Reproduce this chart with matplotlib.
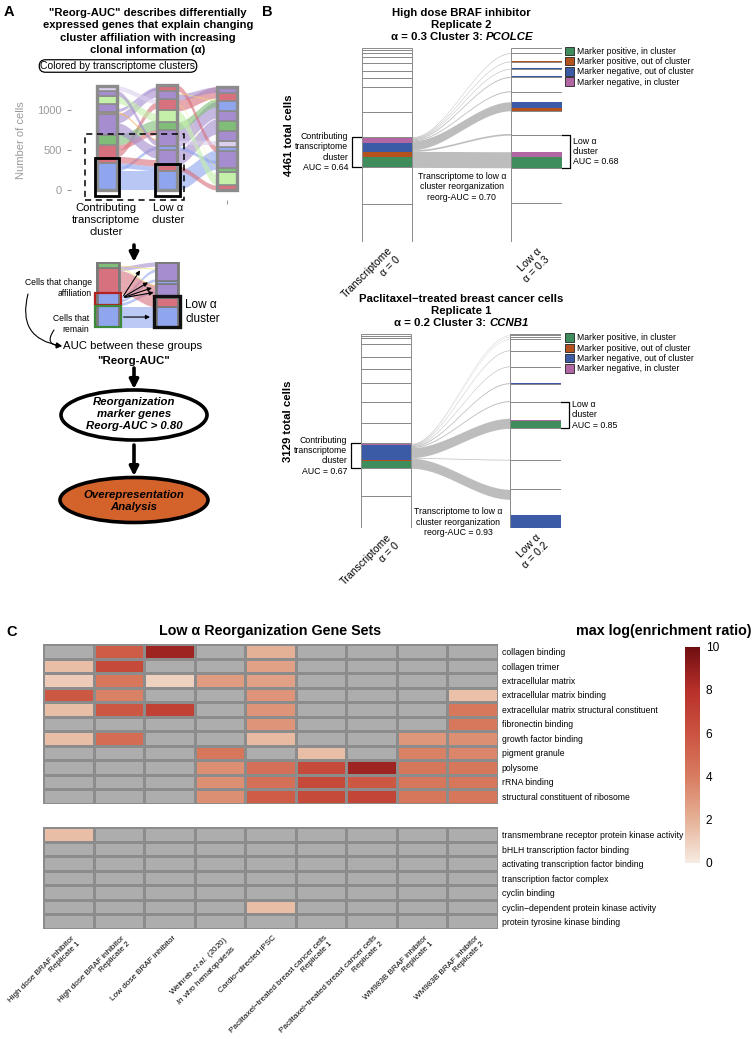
import numpy as np
import matplotlib
matplotlib.use('Agg')
import matplotlib.pyplot as plt
from matplotlib.patches import Rectangle, Ellipse, FancyArrowPatch, Patch
from matplotlib.colors import LinearSegmentedColormap, Normalize
from matplotlib.cm import ScalarMappable

plt.rcParams['font.family'] = ['Liberation Sans', 'DejaVu Sans']
plt.rcParams['mathtext.fontset'] = 'custom'
plt.rcParams['mathtext.rm'] = 'Liberation Sans'
plt.rcParams['mathtext.it'] = 'Liberation Sans:italic'
plt.rcParams['mathtext.bf'] = 'Liberation Sans:bold'

# ---------------- panel A data (sketch alluvial, cells bottom -> top) ----------------
a_colors = {'blue': '#8fa5ee', 'red': '#d7717d', 'purple': '#a58dcf', 'lgreen': '#c4f0aa',
            'green': '#80bd78', 'lav': '#dcd0ee', 'orange': '#f3b26a', 'yellow': '#f3e46c'}
a_col1 = [('blue', 340), ('red', 225), ('green', 125), ('purple', 265), ('orange', 25),
          ('purple', 100), ('lgreen', 100), ('purple', 60), ('lav', 60)]
a_col2 = [('blue', 240), ('red', 75), ('purple', 190), ('blue', 40), ('purple', 210), ('green', 100),
          ('lgreen', 140), ('red', 140), ('purple', 100), ('red', 75)]
a_col3 = [('red', 60), ('lgreen', 160), ('green', 50), ('purple', 220), ('blue', 50), ('lav', 75),
          ('purple', 125), ('green', 125), ('purple', 125), ('blue', 125), ('red', 100), ('purple', 75)]
# (colour, start cells in column i, end cells in column i+1, size)
a_flows_12 = [('blue', 0, 0, 240), ('blue', 240, 505, 40), ('blue', 280, 240, 60), ('red', 340, 300, 80),
              ('red', 420, 1020, 80), ('red', 500, 690, 65), ('green', 565, 750, 125),
              ('purple', 690, 400, 150), ('purple', 840, 1160, 115), ('orange', 955, 620, 25),
              ('purple', 980, 1250, 40), ('lgreen', 1080, 860, 100), ('purple', 1180, 560, 60),
              ('lav', 1240, 1080, 60)]
a_flows_23 = [('blue', 0, 260, 240), ('red', 240, 0, 60), ('purple', 315, 700, 190), ('blue', 505, 330, 40),
              ('purple', 545, 900, 205), ('green', 750, 1040, 100), ('lgreen', 850, 60, 140),
              ('red', 990, 1150, 140), ('purple', 1130, 1220, 70), ('red', 1235, 480, 75),
              ('lav', 560, 560, 50), ('yellow', 1060, 300, 12), ('yellow', 1200, 1120, 12)]

# zoomed sketch (cells bottom -> top)
ins_col1 = [('blue', 160), ('blue', 90), ('red', 180), ('green', 40)]
ins_col2 = [('blue', 150), ('red', 65), ('purple', 95), ('blue', 25), ('purple', 135)]
ins_flows = [('blue', 0, 0, 150), ('blue', 160, 250, 20), ('blue', 185, 330, 20), ('blue', 210, 400, 20),
             ('red', 250, 150, 65), ('red', 315, 215, 95), ('purple', 410, 440, 30),
             ('yellow', 420, 300, 8), ('yellow', 440, 420, 8)]

# ---------------- panel B data (cells, top -> bottom) ----------------
mark_labels = ['Marker positive, in cluster', 'Marker positive, out of cluster',
               'Marker negative, out of cluster', 'Marker negative, in cluster']
mark_keys = ['pos_in', 'pos_out', 'neg_out', 'neg_in']
mark_colors = {'pos_in': '#3f8c5c', 'pos_out': '#b4521d', 'neg_out': '#3b5ba7', 'neg_in': '#b267a4',
               'none': '#bdbdbd'}

b1_total = 4461
b1_left = [54, 61, 92, 138, 192, 169, 207, 560, 575, 705, 843, 865]
b1_contrib = 9
b1_contrib_parts = [('neg_in', 138), ('neg_out', 222), ('pos_out', 115), ('pos_in', 230)]
b1_right = [130, 192, 169, 192, 330, 437, 560, 751, 820, 880]
b1_low = 7
# flows from the contributing cluster: (destination cluster, cells left below, parts)
b1_flows = [(0, 0, [('none', 15)]), (1, 0, [('pos_out', 15)]), (2, 0, [('neg_out', 15)]),
            (3, 0, [('neg_out', 8), ('pos_out', 15)]), (4, 0, [('none', 23)]),
            (5, 0, [('neg_out', 153), ('pos_out', 54)]), (6, 0, [('none', 38)]),
            (7, 0, [('neg_in', 130), ('pos_in', 239)])]
b1_extra = []

b2_total = 3129
b2_left = [22, 43, 91, 215, 194, 226, 306, 328, 333, 403, 441, 527]
b2_contrib = 9
b2_contrib_parts = [('neg_in', 22), ('neg_out', 241), ('pos_out', 22), ('pos_in', 118)]
b2_right = [16, 27, 38, 183, 258, 274, 290, 430, 511, 473, 629]
b2_low = 7
b2_flows = [(0, 0, [('none', 5)]), (1, 0, [('none', 5)]), (2, 0, [('none', 5)]), (3, 0, [('none', 11)]),
            (4, 0, [('none', 11)]), (5, 0, [('neg_out', 16)]), (6, 0, [('none', 16)]),
            (7, 0, [('none', 22), ('neg_in', 27), ('pos_in', 113)]), (8, 0, [('none', 11)]),
            (10, 468, [('none', 161)])]
b2_extra = [(10, 0, [('neg_out', 199), ('pos_out', 11)])]

# ---------------- panel C data ----------------
hm_columns = ['High dose BRAF inhibitor\nReplicate 1', 'High dose BRAF inhibitor\nReplicate 2',
              'Low dose BRAF inhibitor', 'Weinreb $\\mathit{et\\ al.}$ (2020)\n$\\mathit{In\\ vitro}$ hematopoiesis',
              'Cardio\u2212directed iPSC', 'Paclitaxel\u2212treated breast cancer cells\nReplicate 1',
              'Paclitaxel\u2212treated breast cancer cells\nReplicate 2', 'WM983B BRAF inhibitor\nReplicate 1',
              'WM983B BRAF inhibitor\nReplicate 2']
hm_rows_top = ['collagen binding', 'collagen trimer', 'extracellular matrix', 'extracellular matrix binding',
               'extracellular matrix structural constituent', 'fibronectin binding', 'growth factor binding',
               'pigment granule', 'polysome', 'rRNA binding', 'structural constituent of ribosome']
hm_rows_bottom = ['transmembrane receptor protein kinase activity', 'bHLH transcription factor binding',
                  'activating transcription factor binding', 'transcription factor complex', 'cyclin binding',
                  'cyclin\u2212dependent protein kinase activity', 'protein tyrosine kinase binding']
nan = np.nan
hm_top = np.array([
    [nan, 5.5, 8.7, nan, 2.0, nan, nan, nan, nan],
    [1.6, 6.5, nan, nan, 2.6, nan, nan, nan, nan],
    [1.1, 4.2, 0.9, 2.8, 2.6, nan, nan, nan, nan],
    [5.8, 3.8, nan, nan, 3.1, nan, nan, nan, 1.5],
    [1.6, 5.8, 7.0, nan, 3.1, nan, nan, nan, 4.2],
    [nan, nan, nan, nan, 3.1, nan, nan, nan, 4.2],
    [1.6, 4.8, nan, nan, 1.7, nan, nan, 3.0, 3.3],
    [nan, nan, nan, 4.3, nan, 1.6, nan, 3.8, 3.6],
    [nan, nan, nan, 3.3, 4.6, 6.5, 8.7, 4.3, 4.3],
    [nan, nan, nan, 3.3, 4.6, 6.5, 5.8, 4.3, 4.3],
    [nan, nan, nan, 3.3, 5.5, 6.5, 6.8, 4.3, 4.3],
])
hm_bottom = np.array([
    [1.6, nan, nan, nan, nan, nan, nan, nan, nan],
    [nan, nan, nan, nan, nan, nan, nan, nan, nan],
    [nan, nan, nan, nan, nan, nan, nan, nan, nan],
    [nan, nan, nan, nan, nan, nan, nan, nan, nan],
    [nan, nan, nan, nan, nan, nan, nan, nan, nan],
    [nan, nan, nan, nan, 1.6, nan, nan, nan, nan],
    [nan, nan, nan, nan, nan, nan, nan, nan, nan],
])
cbar_ticks = [0, 2, 4, 6, 8, 10]

# ---------------- figure ----------------
W, H = 752, 1039
fig = plt.figure(figsize=(W / 100, H / 100), dpi=100)


def px_axes(x0, y0, x1, y1):
    return fig.add_axes([x0 / W, 1 - y1 / H, (x1 - x0) / W, (y1 - y0) / H])


def band(ax, x0, x1, y0, y1, h, **kw):
    xs = np.linspace(x0, x1, 80)
    t = (xs - x0) / (x1 - x0)
    s = t * t * (3 - 2 * t)
    yb = y0 + (y1 - y0) * s
    ax.fill_between(xs, yb, yb + h, **kw)


def stack_bar(ax, x, parts, w, colors, **kw):
    bottom = 0
    for c, n in parts:
        ax.bar(x, n, bottom=bottom, width=w, color=colors[c], **kw)
        bottom += n
    return bottom


# ---- panel A sketch alluvial ----
axA = px_axes(71, 80, 245, 200)
axA.set_xlim(0.4, 3.3)
axA.set_ylim(-125, 1375)
wA = 0.34
for x, col in zip([1, 2, 3], [a_col1, a_col2, a_col3]):
    tot = stack_bar(axA, x, col, wA, a_colors, edgecolor='#8c8c8c', linewidth=1.2, zorder=3)
    axA.bar(x, tot, width=wA, fill=False, edgecolor='#8c8c8c', linewidth=2.4, zorder=4)
for xi, flows in [(1, a_flows_12), (2, a_flows_23)]:
    for c, y0, y1, h in flows:
        band(axA, xi + wA / 2, xi + 1 - wA / 2, y0, y1, h, color=a_colors[c], alpha=0.62, linewidth=0, zorder=2)
axA.set_yticks([0, 500, 1000])
axA.set_xticks([3])
axA.set_xticklabels([''])
axA.tick_params(colors='#9a9a9a', labelsize=8, length=3)
axA.set_ylabel('Number of cells', color='#9a9a9a', fontsize=8)
axA.yaxis.set_label_coords(-0.26, 0.5)
for s in axA.spines.values():
    s.set_visible(False)
axA.add_patch(Rectangle((0.63, -125), 1.65, 825, fill=False, ls=(0, (4, 3)), lw=1.1, ec='k', clip_on=False, zorder=6))
axA.add_patch(Rectangle((0.8, -70), 0.4, 465, fill=False, lw=2, ec='k', clip_on=False, zorder=6))
axA.add_patch(Rectangle((1.8, -70), 0.42, 390, fill=False, lw=2, ec='k', clip_on=False, zorder=6))

# ---- panel A zoomed sketch ----
axI = px_axes(96, 262, 180, 328)
axI.set_xlim(0.8, 2.22)
axI.set_ylim(0, 470)
axI.axis('off')
wI = 0.38
for x, col in zip([1, 2], [ins_col1, ins_col2]):
    tot = stack_bar(axI, x, col, wI, a_colors, edgecolor='#7a7a7a', linewidth=1.2, zorder=3)
    axI.bar(x, tot, width=wI, fill=False, edgecolor='#7a7a7a', linewidth=2, zorder=4)
for c, y0, y1, h in ins_flows:
    band(axI, 1 + wI / 2, 2 - wI / 2, y0, y1, h, color=a_colors[c], alpha=0.6, linewidth=0, zorder=2)
axI.add_patch(Rectangle((0.78, 164), 0.44, 87, fill=False, lw=1.6, ec='#b22222', zorder=5, clip_on=False))
axI.add_patch(Rectangle((0.78, 5), 0.44, 152, fill=False, lw=1.6, ec='#3c8a3c', zorder=5, clip_on=False))
axI.add_patch(Rectangle((1.78, 4), 0.44, 222, fill=False, lw=2.4, ec='#111111', zorder=5, clip_on=False))
for tx, ty in [(1.57, 427), (1.72, 335), (1.79, 292), (1.82, 256)]:
    axI.annotate('', xy=(tx, ty), xytext=(1.24, 214),
                 arrowprops=dict(arrowstyle='-|>', lw=0.8, color='k', mutation_scale=6), zorder=6)
axI.annotate('', xy=(1.76, 78), xytext=(1.22, 78),
             arrowprops=dict(arrowstyle='-|>', lw=0.8, color='k', mutation_scale=6), zorder=6)


# ---- panel B alluvials ----
def alluvial(ax, total, left, ci, cparts, right, flows, extra, low):
    w = 0.34
    ax.set_xlim(1 - 0.17, 2 + 0.17)
    ax.set_ylim(total, 0)
    lcum = np.concatenate([[0], np.cumsum(left)])
    rcum = np.concatenate([[0], np.cumsum(right)])
    ax.bar(np.ones(len(left)), left, bottom=lcum[:-1], width=w, color='white', linewidth=0, zorder=1)
    ax.bar(np.full(len(right), 2), right, bottom=rcum[:-1], width=w, color='white', linewidth=0, zorder=1)
    y = lcum[ci]
    for c, n in cparts:
        ax.bar(1, n, bottom=y, width=w, color=mark_colors[c], linewidth=0, zorder=3)
        y += n
    ys = lcum[ci]
    for dest, below, parts in flows:
        n = sum(p[1] for p in parts)
        yd = rcum[dest + 1] - below - n
        band(ax, 1 + w / 2, 2 - w / 2, ys, yd, n, color=mark_colors['none'], linewidth=0, zorder=2)
        y = yd
        for c, m in parts:
            if c != 'none':
                ax.bar(2, m, bottom=y, width=w, color=mark_colors[c], linewidth=0, zorder=3)
            y += m
        ys += n
    for dest, below, parts in extra:
        n = sum(p[1] for p in parts)
        y = rcum[dest + 1] - below - n
        for c, m in parts:
            ax.bar(2, m, bottom=y, width=w, color=mark_colors[c], linewidth=0, zorder=3)
            y += m
    ax.bar(np.ones(len(left)), left, bottom=lcum[:-1], width=w, fill=False, edgecolor='#8a8a8a', linewidth=0.7, zorder=4)
    ax.bar(np.full(len(right), 2), right, bottom=rcum[:-1], width=w, fill=False, edgecolor='#8a8a8a', linewidth=0.7, zorder=4)
    for s in ax.spines.values():
        s.set_visible(False)
    ax.set_yticks([])
    tr = ax.get_yaxis_transform()
    y0, y1 = lcum[ci], lcum[ci + 1]
    ax.plot([0, -0.048, -0.048, 0], [y0, y0, y1, y1], color='k', lw=0.9, transform=tr, clip_on=False)
    y0, y1 = rcum[low], rcum[low + 1]
    ax.plot([1, 1.042, 1.042, 1], [y0, y0, y1, y1], color='k', lw=0.9, transform=tr, clip_on=False)
    return lcum, rcum


def panel_b(box, total, left, ci, cparts, right, flows, extra, low, auc_l, auc_r, auc_reorg, alpha,
            reorg_y, reorg_x):
    ax = px_axes(*box)
    lcum, rcum = alluvial(ax, total, left, ci, cparts, right, flows, extra, low)
    tr = ax.get_yaxis_transform()
    ax.text(-0.068, (lcum[ci] + lcum[ci + 1]) / 2, 'Contributing\ntranscriptome\ncluster\nAUC = %.2f' % auc_l,
            transform=tr, ha='right', va='center', fontsize=6.3, linespacing=1.2)
    ax.text(1.057, (rcum[low] + rcum[low + 1]) / 2, 'Low \u03b1\ncluster\nAUC = %.2f' % auc_r,
            transform=tr, ha='left', va='center', fontsize=6.3, linespacing=1.2)
    ax.text(reorg_x, reorg_y, 'Transcriptome to low \u03b1\ncluster reorganization\nreorg-AUC = %.2f' % auc_reorg,
            transform=ax.transAxes, ha='center', va='center', fontsize=6.3, linespacing=1.2)
    ax.set_xticks([1, 2])
    ax.set_xticklabels(['Transcriptome\n\u03b1 = 0', 'Low \u03b1\n\u03b1 = %s' % alpha], rotation=45,
                       ha='right', rotation_mode='anchor', fontsize=7.6, multialignment='right')
    ax.tick_params(axis='x', length=0, pad=3)
    ax.set_ylabel('%d total cells' % total, fontweight='bold', fontsize=8.2)
    ax.yaxis.set_label_coords(-0.34, 0.55)
    handles = [Patch(facecolor=mark_colors[k], edgecolor='#222222', linewidth=0.6) for k in mark_keys]
    ax.legend(handles, mark_labels, loc='upper left', bbox_to_anchor=(565 / W, 1 - (box[1] - 1) / H),
              bbox_transform=fig.transFigure, frameon=False, fontsize=6.2, handlelength=1.05,
              handleheight=1.15, labelspacing=0.12, handletextpad=0.3, borderpad=0, borderaxespad=0)
    return ax


panel_b((361.7, 47.7, 561.7, 241.7), b1_total, b1_left, b1_contrib, b1_contrib_parts, b1_right, b1_flows,
        b1_extra, b1_low, 0.64, 0.68, 0.70, '0.3', 0.282, 0.5)
panel_b((360.7, 334.3, 560.7, 528.3), b2_total, b2_left, b2_contrib, b2_contrib_parts, b2_right, b2_flows,
        b2_extra, b2_low, 0.67, 0.85, 0.93, '0.2', 0.032, 0.487)

# ---- panel C heatmap ----
cmap = LinearSegmentedColormap.from_list('enr', [(0, '#f7ebe2'), (0.2, '#e5b196'), (0.4, '#d87c60'),
                                                 (0.6, '#cb5340'), (0.8, '#b8302a'), (1, '#6f0e10')])
cmap.set_bad('#adadad')
for box, data, rows, last in [((43.3, 644.3, 497.7, 803.5), hm_top, hm_rows_top, False),
                              ((43.3, 827.3, 497.7, 929.0), hm_bottom, hm_rows_bottom, True)]:
    ax = px_axes(*box)
    ax.pcolormesh(np.ma.masked_invalid(data), cmap=cmap, vmin=0, vmax=10, edgecolors='#8c8c8c', linewidth=1.0)
    ax.set_xlim(0, data.shape[1])
    ax.set_ylim(data.shape[0], 0)
    ax.yaxis.tick_right()
    ax.set_yticks(np.arange(len(rows)) + 0.5)
    ax.set_yticklabels(rows, fontsize=6.2)
    ax.tick_params(axis='y', length=0, pad=3)
    if last:
        ax.set_xticks(np.arange(len(hm_columns)) + 0.55)
        ax.set_xticklabels(hm_columns, rotation=45, ha='right', rotation_mode='anchor', fontsize=5.9,
                           multialignment='right', linespacing=1.15)
        ax.tick_params(axis='x', length=0, pad=4)
    else:
        ax.set_xticks([])
    for s in ax.spines.values():
        s.set_visible(False)

cax = px_axes(685, 646.7, 700, 862.7)
cb = fig.colorbar(ScalarMappable(norm=Normalize(0, 10), cmap=cmap), cax=cax)
cb.outline.set_visible(False)
cb.set_ticks(cbar_ticks)
cax.tick_params(length=0, labelsize=8.6, pad=4)

# ---- overlay text / schematic ----
ov = fig.add_axes([0, 0, 1, 1])
ov.set_xlim(0, W)
ov.set_ylim(H, 0)
ov.axis('off')
ov.patch.set_visible(False)

ov.text(4, 12, 'A', fontsize=10.5, fontweight='bold', va='center')
ov.text(262, 12, 'B', fontsize=10.5, fontweight='bold', va='center')
ov.text(6, 632, 'C', fontsize=10.5, fontweight='bold', va='center')

ov.text(148, 31.5, '"Reorg-AUC" describes differentially\nexpressed genes that explain changing\n'
        'cluster affiliation with increasing\nclonal information (\u03b1)', ha='center', va='center',
        fontsize=8.1, fontweight='bold', linespacing=1.28)
ov.text(118, 66, 'Colored by transcriptome clusters', ha='center', va='center', fontsize=7.5,
        bbox=dict(boxstyle='round,pad=0.12,rounding_size=0.6', fc='white', ec='black', lw=0.9))
ov.text(106, 203, 'Contributing\ntranscriptome\ncluster', ha='center', va='top', fontsize=8.1, linespacing=1.25)
ov.text(168, 203, 'Low \u03b1\ncluster', ha='center', va='top', fontsize=8.1, linespacing=1.25)

for y0, y1 in [(245, 262), (368, 389), (445, 476)]:
    ov.add_patch(FancyArrowPatch((134, y0), (134, y1), arrowstyle='-|>', mutation_scale=13, lw=2.6,
                                 color='k', shrinkA=0, shrinkB=0))

ov.text(92, 288, 'Cells that change\naffiliation', ha='right', va='center', fontsize=6.2, linespacing=1.2)
ov.text(89, 324, 'Cells that\nremain', ha='right', va='center', fontsize=6.2, linespacing=1.2)
ov.text(185, 312, 'Low \u03b1\ncluster', ha='left', va='center', fontsize=8.5, linespacing=1.2)
ov.add_patch(FancyArrowPatch((28, 294), (62, 346), connectionstyle='arc3,rad=0.55', arrowstyle='-|>',
                             mutation_scale=8, lw=0.8, color='k', shrinkA=0, shrinkB=0))
ov.add_patch(FancyArrowPatch((54, 330), (62, 346), connectionstyle='arc3,rad=0.9', arrowstyle='-|>',
                             mutation_scale=8, lw=0.8, color='k', shrinkA=0, shrinkB=0))
ov.text(63, 346, 'AUC between these groups', ha='left', va='center', fontsize=8.2)
ov.text(134, 361, '"Reorg-AUC"', ha='center', va='center', fontsize=8.2, fontweight='bold')

ov.add_patch(Ellipse((134, 415), 146, 50, fc='white', ec='k', lw=2.6))
ov.text(134, 414, 'Reorganization\nmarker genes\nReorg-AUC > 0.80', ha='center', va='center', fontsize=8.2,
        fontweight='bold', style='italic', linespacing=1.2)
ov.add_patch(Ellipse((134, 500), 148, 45, fc='#d4622b', ec='k', lw=2.6))
ov.text(134, 501, 'Overepresentation\nAnalysis', ha='center', va='center', fontsize=8.2,
        fontweight='bold', style='italic', linespacing=1.18)

# panel B titles
for ys, lines, pre, gene, xr in [((12.7, 24.7, 37.0), ('High dose BRAF inhibitor', 'Replicate 2'),
                                  '\u03b1 = 0.3 Cluster 3: ', 'PCOLCE', 486),
                                 ((299.5, 311.5, 323.5), ('Paclitaxel\u2212treated breast cancer cells', 'Replicate 1'),
                                  '\u03b1 = 0.2 Cluster 3: ', 'CCNB1', 489)]:
    ov.text(461, ys[0], lines[0], ha='center', va='center', fontsize=8.2, fontweight='bold')
    ov.text(461, ys[1], lines[1], ha='center', va='center', fontsize=8.2, fontweight='bold')
    t1 = ov.text(xr, ys[2], pre, ha='right', va='center', fontsize=8.2, fontweight='bold')
    ov.annotate(gene, xy=(1, 0), xycoords=t1, ha='left', va='bottom', fontsize=8.2, fontweight='bold',
                style='italic')

# panel C titles
ov.text(270, 631, 'Low \u03b1 Reorganization Gene Sets', ha='center', va='center', fontsize=10.3, fontweight='bold')
ov.text(751, 631, 'max log(enrichment ratio)', ha='right', va='center', fontsize=10.3, fontweight='bold')

fig.savefig('out.png', dpi=100)
